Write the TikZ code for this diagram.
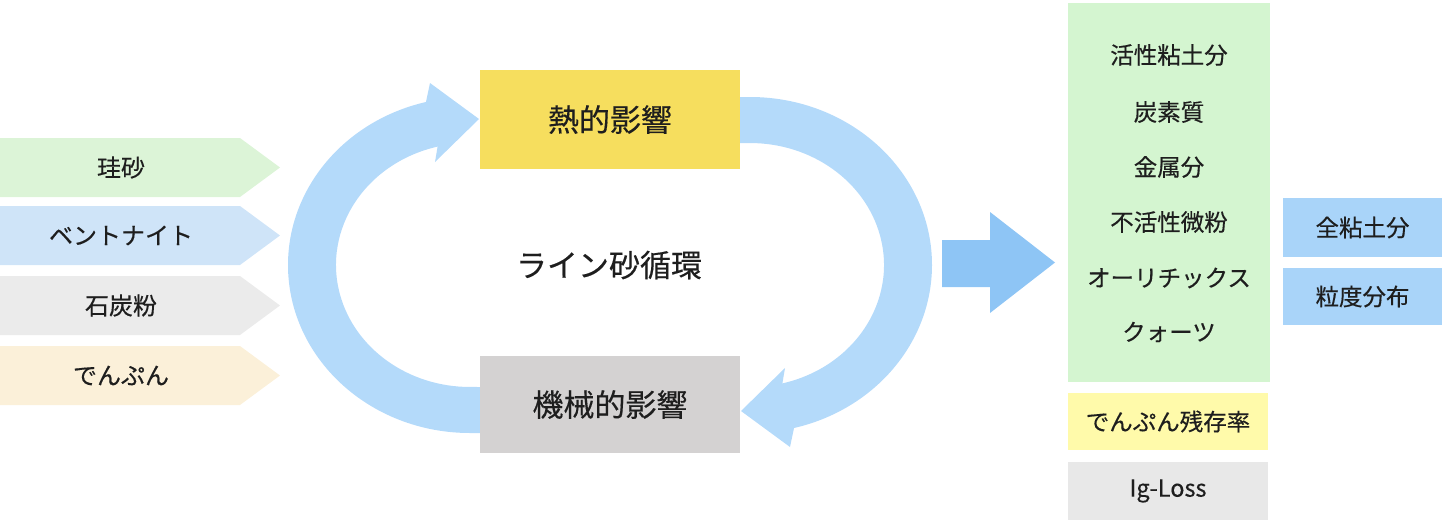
\documentclass[tikz,border=0pt]{standalone}
\usepackage{fontspec}
\setmainfont{Noto Sans CJK JP}[FakeBold=0.35]
\definecolor{cgreen}{HTML}{DCF4D7}
\definecolor{cblue}{HTML}{CFE4F8}
\definecolor{cgray}{HTML}{EBEBEB}
\definecolor{cbeige}{HTML}{FBF0D9}
\definecolor{heatyellow}{HTML}{F6DE5E}
\definecolor{mechgray}{HTML}{D4D2D2}
\definecolor{arcblue}{HTML}{B4DAFA}
\definecolor{bigblue}{HTML}{8EC5F5}
\definecolor{listgreen}{HTML}{D4F5D0}
\definecolor{lightyellow}{HTML}{FFFAAA}
\definecolor{lossgray}{HTML}{E8E8E8}
\definecolor{sideblue}{HTML}{A9D4F9}
\definecolor{ink}{HTML}{1E1E1E}
\begin{document}
\begin{tikzpicture}[x=1pt,y=1pt,
  chevtext/.style={text=ink,font=\fontsize{24}{27}\selectfont,inner sep=0pt},
  bigbox/.style={text=ink,font=\fontsize{31}{35}\selectfont,minimum width=260pt,inner sep=0pt},
  listtext/.style={text=ink,font=\fontsize{23.5}{26}\selectfont,inner sep=0pt},
  plainbox/.style={text=ink,font=\fontsize{23.5}{26}\selectfont,inner sep=0pt}]
\useasboundingbox (0,0) rectangle (1444,-528);
% input chevrons
\fill[cgreen] (0,-138) -- (240,-138) -- (280,-167.5) -- (240,-197) -- (0,-197) -- cycle;
\fill[cblue] (0,-206) -- (240,-206) -- (280,-235.5) -- (240,-265) -- (0,-265) -- cycle;
\fill[cgray] (0,-276) -- (240,-276) -- (280,-305.5) -- (240,-335) -- (0,-335) -- cycle;
\fill[cbeige] (0,-346) -- (240,-346) -- (280,-375.5) -- (240,-405) -- (0,-405) -- cycle;
\node[chevtext] (keisha) at (121,-167.5) {珪砂};
\node[chevtext] (bento) at (121,-235.5) {ベントナイト};
\node[chevtext] (sekitan) at (121,-305.5) {石炭粉};
\node[chevtext] (denpun) at (121,-375.5) {でんぷん};
% cycle arrows
\fill[arcblue] (480,-433) -- (470,-433)
  arc[start angle=270, end angle=104, x radius=182, y radius=168]
  -- (430,-83) -- (479,-119) -- (435,-162) -- (437.6,-146.6)
  arc[start angle=104, end angle=270, x radius=134, y radius=122]
  -- (480,-387) -- cycle;
\fill[arcblue] (740,-97) -- (750,-97)
  arc[start angle=90, end angle=-76, x radius=182, y radius=168]
  -- (790,-447) -- (741,-411) -- (785,-368) -- (782.4,-383.4)
  arc[start angle=-76, end angle=90, x radius=134, y radius=122]
  -- (740,-143) -- cycle;
% centre boxes
\node[bigbox,fill=heatyellow,minimum height=99pt] (heat) at (610,-119.5) {熱的影響};
\node[bigbox,fill=mechgray,minimum height=97pt] (mech) at (610,-404.5) {機械的影響};
\node[text=ink,font=\fontsize{31}{35}\selectfont,inner sep=0pt] (cycle) at (609,-265) {ライン砂循環};
% big arrow
\fill[bigblue] (942,-240) -- (990,-240) -- (990,-212) -- (1055,-262.5) -- (990,-313) -- (990,-287) -- (942,-287) -- cycle;
% result boxes
\node[fill=listgreen,minimum width=202pt,minimum height=379pt,inner sep=0pt] (list) at (1169,-192.5) {};
\node[listtext] (l1) at (1169,-55) {活性粘土分};
\node[listtext] (l2) at (1169,-112) {炭素質};
\node[listtext] (l3) at (1169,-167) {金属分};
\node[listtext] (l4) at (1169,-222) {不活性微粉};
\node[listtext] (l5) at (1169,-278) {オーリチックス};
\node[listtext] (l6) at (1169,-332) {クォーツ};
\node[plainbox,fill=lightyellow,minimum width=200pt,minimum height=57pt] (zanson) at (1168,-421.5) {でんぷん残存率};
\node[plainbox,fill=lossgray,minimum width=200pt,minimum height=58pt] (igloss) at (1168,-491) {Ig-Loss};
\node[plainbox,fill=sideblue,minimum width=159pt,minimum height=59pt] (zennendo) at (1362.5,-227.5) {全粘土分};
\node[plainbox,fill=sideblue,minimum width=159pt,minimum height=57pt] (ryudo) at (1362.5,-296.5) {粒度分布};
\end{tikzpicture}
\end{document}
